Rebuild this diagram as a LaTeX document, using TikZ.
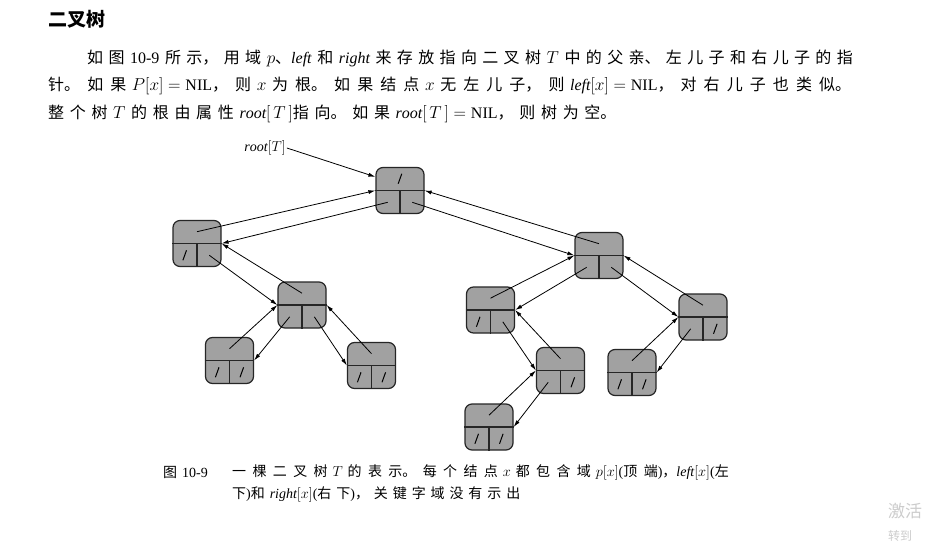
\documentclass[tikz,border=0pt]{standalone}
\usepackage{fontspec}
\setmainfont{Liberation Serif}
\newfontfamily\cjk{Noto Sans CJK SC}
\usetikzlibrary{arrows.meta,calc}

\XeTeXlinebreaklocale "zh"
\XeTeXlinebreakskip=0pt plus 1fil

\newcommand\ltn[1]{{\rmfamily #1}}
\newcommand\gap{\hspace{0.35em}}
\newcommand\nilmark[1]{\draw[nil] ([shift={(-1.8,5)}]#1) -- ([shift={(1.8,-5)}]#1);}

\tikzset{
  tnode/.style={draw=black!85, line width=1.2pt, fill=black!37, rounded corners=7pt,
    minimum width=48pt, minimum height=46pt, inner sep=0pt},
  ptr/.style={-{Latex[length=7pt,width=4pt]}, line width=0.8pt},
  nil/.style={line width=1pt},
  body/.style={font=\cjk\fontsize{16}{19}\selectfont, inner sep=0pt, anchor=west, align=justify},
  capt/.style={font=\cjk\fontsize{14}{16}\selectfont, inner sep=0pt, anchor=west, align=justify},
}

\begin{document}
\begin{tikzpicture}[x=1pt, y=-1pt]
    \useasboundingbox (0,0) rectangle (930,541);
    \fill[white] (0,0) rectangle (930,541);

    % Заголовок и текст
    \node[font=\cjk\bfseries\fontsize{19}{21}\selectfont, anchor=west, inner sep=0pt] (head) at (48,19) {二叉树};
    \node[body, text width=771pt] (ln1) at (87,58) {\parfillskip=0pt 如图\gap\ltn{10-9}\gap 所示，用域\gap$p$、$\mathit{left}$\gap 和\gap$\mathit{right}$\gap 来存放指向二叉树\gap$T$\gap 中的父亲、左儿子和右儿子的指};
    \node[body, text width=810pt] (ln2) at (48,86) {\parfillskip=0pt 针。如果\gap$P[x]=\mathrm{NIL}$，则\gap$x$\gap 为根。如果结点\gap$x$\gap 无左儿子，则\gap$\mathit{left}[x]=\mathrm{NIL}$，对右儿子也类似。};
    \node[body, text width=574pt] (ln3) at (48,114) {\parfillskip=0pt 整个树\gap$T$\gap 的根由属性\gap$\mathit{root}[\,T\,]$指向。如果\gap$\mathit{root}[\,T\,]=\mathrm{NIL}$，则树为空。};

    % Узлы дерева
    \node[tnode] (r) at (400,190.5) {};
    \node[tnode] (a) at (197,243.5) {};
    \node[tnode] (b) at (302,305) {};
    \node[tnode] (c) at (229.5,360.5) {};
    \node[tnode] (d) at (371.5,365.5) {};
    \node[tnode] (e) at (599,255.5) {};
    \node[tnode] (f) at (490.5,310) {};
    \node[tnode] (g) at (560.5,370.5) {};
    \node[tnode] (h) at (489,427) {};
    \node[tnode] (i) at (703,317) {};
    \node[tnode] (j) at (632,372.5) {};

    % Поля p, left, right
    \foreach \n in {r,a,b,c,d,e,f,g,h,i,j}{
        \draw[line width=1.2pt, black!85] (\n.west) -- (\n.east) (\n.center) -- (\n.south);
        \coordinate (\n-t) at ($(\n.north)!.5!(\n.center)$);
        \coordinate (\n-l) at ($(\n.south west)!.5!(\n.center)$);
        \coordinate (\n-r) at ($(\n.south east)!.5!(\n.center)$);
    }

    % root[T]
    \node[font=\fontsize{14}{16}\selectfont, inner sep=1pt] (rootlbl) at (265,148) {$\mathit{root}[T]$};
    \draw[ptr] (rootlbl.east) -- (r.151);

    % Левые сыновья
    \draw[ptr] (r-l) -- (a.east);
    \draw[ptr] (a-t) -- (r.west);
    \draw[ptr] (b-l) -- (c.east);
    \draw[ptr] (c-t) -- (b.west);
    \draw[ptr] (e-l) -- (f.east);
    \draw[ptr] (f-t) -- (e.west);
    \draw[ptr] (g-l) -- (h.east);
    \draw[ptr] (h-t) -- (g.west);
    \draw[ptr] (i-l) -- (j.east);
    \draw[ptr] (j-t) -- (i.west);

    % Правые сыновья
    \draw[ptr] (r-r) -- (e.west);
    \draw[ptr] (e-t) -- (r.east);
    \draw[ptr] (a-r) -- (b.west);
    \draw[ptr] (b-t) -- (a.east);
    \draw[ptr] (b-r) -- (d.west);
    \draw[ptr] (d-t) -- (b.east);
    \draw[ptr] (e-r) -- (i.west);
    \draw[ptr] (i-t) -- (e.east);
    \draw[ptr] (f-r) -- (g.west);
    \draw[ptr] (g-t) -- (f.east);

    % NIL
    \foreach \m in {r-t,a-l,c-l,c-r,d-l,d-r,f-l,g-r,h-l,h-r,i-r,j-l,j-r}
        \nilmark{\m};

    % Подпись
    \node[font=\cjk\fontsize{14}{16}\selectfont, anchor=west, inner sep=0pt] (capno) at (163,472) {图\gap\ltn{10-9}};
    \node[capt, text width=503pt] (cap1) at (232,472) {\parfillskip=0pt 一棵二叉树\gap$T$\gap 的表示。每个结点\gap$x$\gap 都包含域\gap$p[x]$\ltn{(}顶端\ltn{)}，$\mathit{left}[x]$\ltn{(}左};
    \node[capt, text width=293pt] (cap2) at (232,494) {\parfillskip=0pt 下\ltn{)}和\gap$\mathit{right}[x]$\ltn{(}右下\ltn{)}，关键字域没有示出};

    % Водяной знак
    \node[font=\cjk\fontsize{17}{18}\selectfont, text=black!20, anchor=west, inner sep=0pt] (wm1) at (888,511) {激活};
    \node[font=\cjk\fontsize{12}{13}\selectfont, text=black!20, anchor=west, inner sep=0pt] (wm2) at (888,536) {转到};
\end{tikzpicture}
\end{document}
